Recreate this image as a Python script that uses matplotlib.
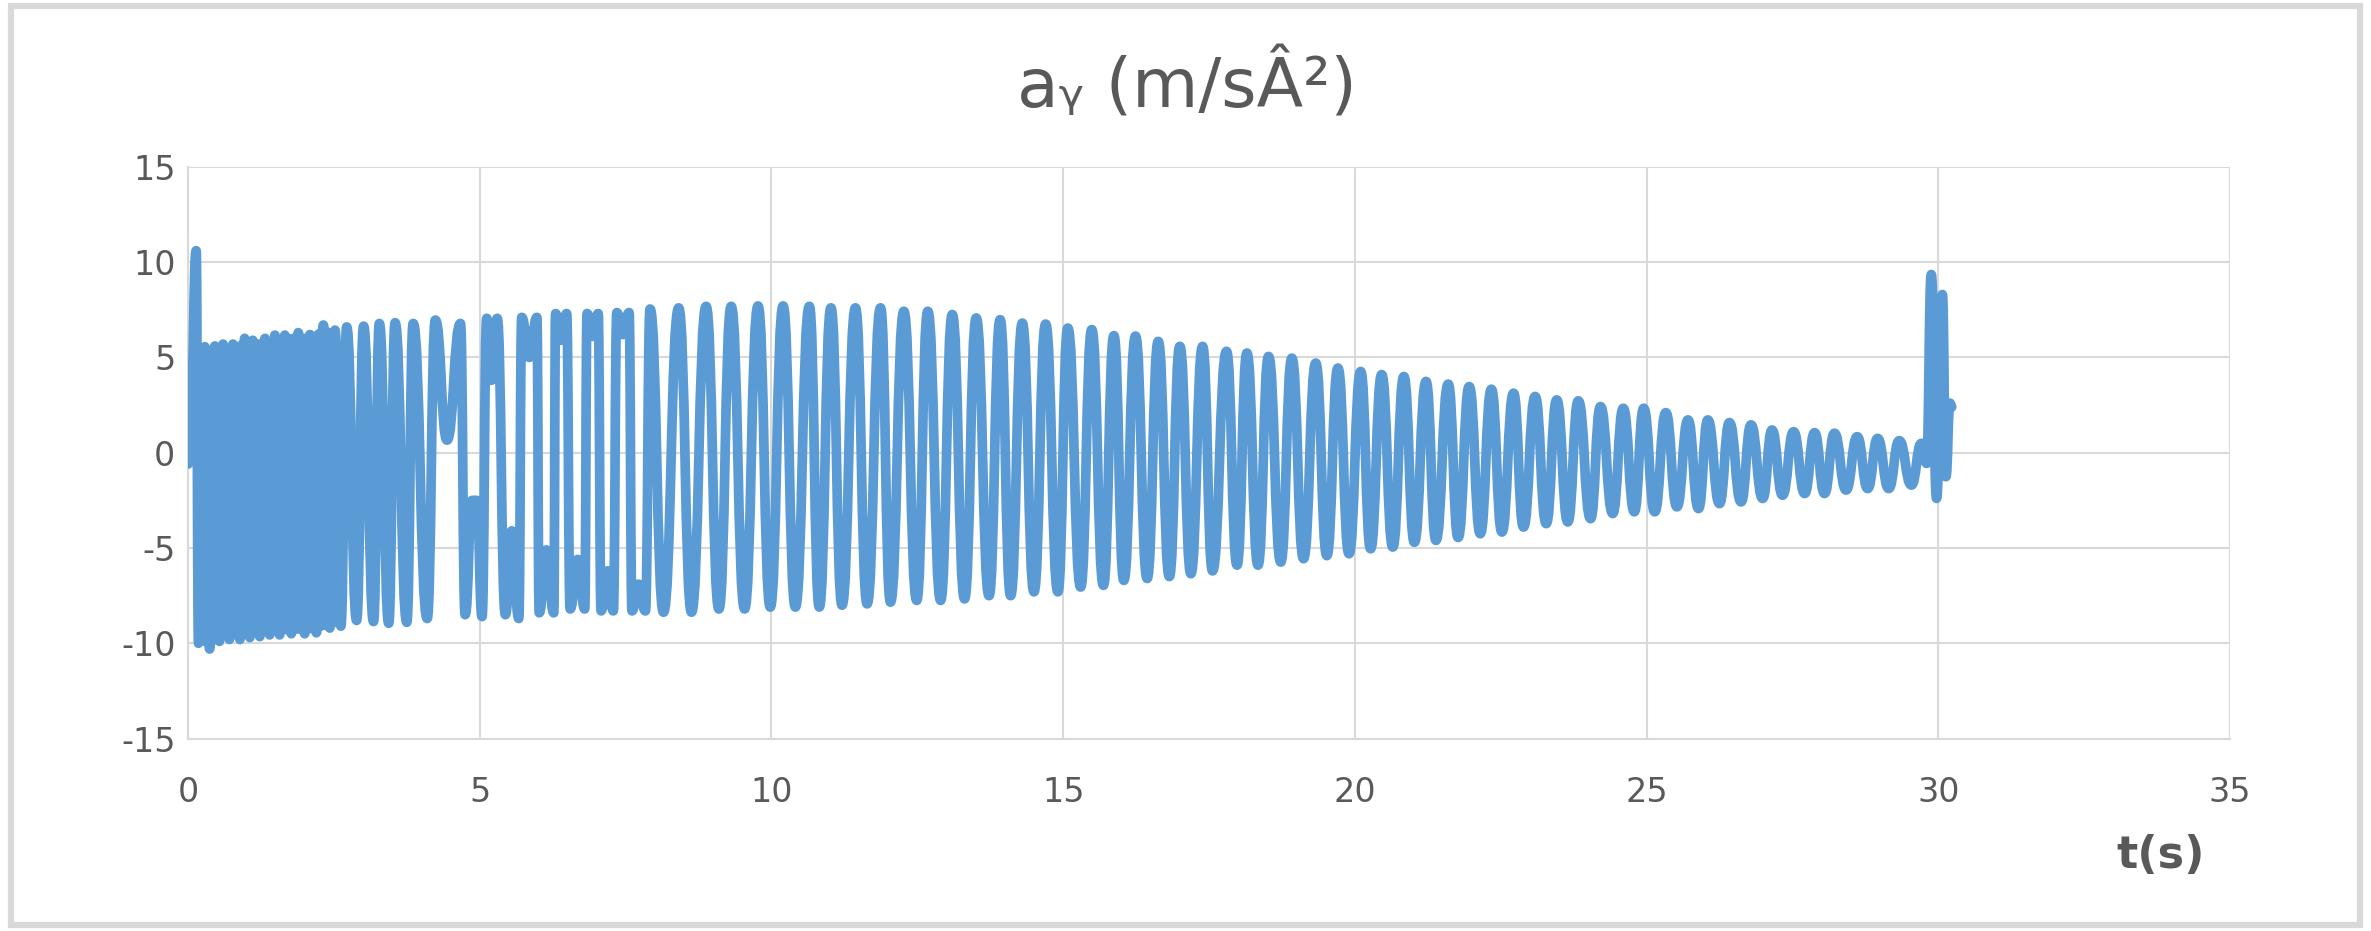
import numpy as np
import matplotlib
matplotlib.use("Agg")
import matplotlib.pyplot as plt
from matplotlib.patches import Rectangle, PathPatch
from matplotlib.path import Path

plt.rcParams["axes.unicode_minus"] = False

# ---------------- data (extrema) ----------------
# start transient and dense oscillation (0 - 2.7 s)
t_start = [0.00, 0.05, 0.14, 0.18, 0.29, 0.37, 0.46, 0.54, 0.60, 0.71, 0.77, 0.89,
           0.97, 1.06, 1.11, 1.23, 1.32, 1.40, 1.49, 1.57, 1.66, 1.77, 1.89, 2.00,
           2.09, 2.20, 2.32, 2.43, 2.52, 2.62]
a_start = [-0.6, 2.6, 10.6, -10.0, 5.56, -10.3, 5.6, -9.9, 5.7, -9.8, 5.7, -9.8,
           6.0, -9.7, 5.9, -9.65, 6.0, -9.56, 6.17, -9.56, 6.17, -9.5, 6.3, -9.5,
           6.2, -9.45, 6.7, -9.2, 6.43, -9.1]

# irregular part (2.7 - 5.1 s)
t_irreg = [2.72, 2.89, 3.01, 3.18, 3.28, 3.44, 3.55, 3.75, 3.86, 4.10, 4.24, 4.44,
           4.67, 4.75, 4.87, 4.95, 5.04]
a_irreg = [6.6, -8.8, 6.64, -8.86, 6.78, -8.95, 6.82, -8.9, 6.78, -8.7, 6.96, 0.66,
           6.78, -8.5, -2.5, -2.5, -8.6]

# notched peaks / troughs (5.1 - 7.9 s)
t_notch = [5.12, 5.20, 5.30, 5.44, 5.55, 5.67, 5.72, 5.85, 5.98, 6.02, 6.14, 6.27,
           6.30, 6.40, 6.49, 6.55, 6.68, 6.80, 6.84, 6.94, 7.03, 7.08, 7.19, 7.29,
           7.35, 7.45, 7.56, 7.61, 7.72, 7.84]
a_notch = [7.05, 3.8, 7.05, -8.5, -4.1, -8.7, 7.1, 5.0, 7.1, -8.4, -5.1, -8.4,
           7.3, 5.9, 7.3, -8.2, -5.6, -8.2, 7.3, 6.1, 7.3, -8.3, -6.2, -8.3,
           7.35, 6.2, 7.35, -8.3, -6.9, -8.3]

# regular oscillation (7.9 - 29.7 s)
peak_t = [7.92, 8.41, 8.88, 9.31, 9.77, 10.20, 10.65, 11.02, 11.44, 11.87, 12.27,
          12.68, 13.10, 13.51, 13.92, 14.30, 14.70, 15.08, 15.49, 15.87, 16.24,
          16.63, 17.00, 17.39, 17.80, 18.15, 18.52, 18.92, 19.33, 19.71, 20.10,
          20.46, 20.84, 21.22, 21.60, 21.96, 22.34, 22.72, 23.09, 23.46, 23.83,
          24.21, 24.60, 24.95, 25.33, 25.71, 26.05, 26.42, 26.79, 27.15, 27.52,
          27.88, 28.22, 28.61, 28.96, 29.33, 29.71]
peak_a = [7.54, 7.6, 7.68, 7.68, 7.7, 7.7, 7.68, 7.6, 7.6, 7.6, 7.42,
          7.42, 7.25, 7.07, 6.98, 6.8, 6.75, 6.54, 6.46, 6.14, 6.12,
          5.84, 5.58, 5.58, 5.32, 5.23, 5.05, 4.96, 4.7, 4.44, 4.26,
          4.1, 4.0, 3.74, 3.6, 3.47, 3.33, 3.12, 2.95, 2.77, 2.72,
          2.42, 2.33, 2.33, 2.1, 1.72, 1.72, 1.58, 1.46, 1.19, 1.1,
          1.05, 1.02, 0.84, 0.75, 0.63, 0.49]
trough_t = [8.15, 8.63, 9.10, 9.54, 9.98, 10.41, 10.82, 11.21, 11.64, 12.04, 12.49,
            12.90, 13.31, 13.73, 14.10, 14.50, 14.91, 15.30, 15.69, 16.04, 16.44,
            16.82, 17.19, 17.56, 17.98, 18.34, 18.73, 19.12, 19.52, 19.90, 20.27,
            20.65, 21.02, 21.39, 21.77, 22.15, 22.52, 22.89, 23.28, 23.65, 24.04,
            24.42, 24.79, 25.14, 25.52, 25.89, 26.25, 26.62, 26.99, 27.33, 27.71,
            28.05, 28.42, 28.79, 29.15, 29.54]
trough_a = [-8.37, -8.37, -8.2, -8.2, -8.1, -8.1, -8.1, -8.0, -7.93, -7.84, -7.75,
            -7.75, -7.67, -7.5, -7.5, -7.3, -7.3, -7.05, -6.96, -6.7, -6.6,
            -6.5, -6.35, -6.2, -5.9, -5.9, -5.74, -5.56, -5.4, -5.3, -5.04,
            -4.95, -4.7, -4.6, -4.45, -4.25, -4.16, -3.9, -3.72, -3.63, -3.46,
            -3.19, -3.1, -3.1, -2.84, -2.93, -2.67, -2.58, -2.4, -2.23, -2.14,
            -2.14, -1.96, -1.88, -1.88, -1.7]

# final spikes (29.8 - 30.2 s)
t_end = [29.80, 29.88, 29.97, 30.07, 30.13, 30.20, 30.23]
a_end = [-0.56, 9.35, -2.4, 8.3, -1.26, 2.6, 2.4]

x_ticks = [0, 5, 10, 15, 20, 25, 30, 35]
y_ticks = [-15, -10, -5, 0, 5, 10, 15]
title_text = "aᵧ (m/sÂ²)"
xlabel_text = "t(s)"
line_color = "#5B9BD5"

# ---------------- assemble series ----------------
reg_t = np.array(peak_t + trough_t)
reg_a = np.array(peak_a + trough_a)
order = np.argsort(reg_t)
t = np.concatenate([t_start, t_irreg, t_notch, reg_t[order], t_end])
a = np.concatenate([a_start, a_irreg, a_notch, reg_a[order], a_end])

# ---------------- figure ----------------
W, H = 2371, 931
fig = plt.figure(figsize=(W / 100, H / 100), dpi=100)
fig.patch.set_facecolor("white")

ax = fig.add_axes([188 / W, 1 - 738.6 / H, (2230 - 188) / W, (738.6 - 166.8) / H])

# dense start: the oscillation is too fast to resolve -> solid band between envelopes
dt = np.array(t_start[3:])
da = np.array(a_start[3:])
top = [(x, y) for x, y in zip(dt, da) if y > 0]
bot = [(x, y) for x, y in zip(dt, da) if y < 0]
band = np.array(top + bot[::-1])
ax.fill(band[:, 0], band[:, 1], color=line_color, lw=0, zorder=3)

# smoothed line (Bezier segments with flat tangents at the read extrema)
k = 0.5
verts = [(t[0], a[0])]
codes = [Path.MOVETO]
for i in range(len(t) - 1):
    dx = t[i + 1] - t[i]
    verts += [(t[i] + k * dx, a[i]), (t[i + 1] - k * dx, a[i + 1]), (t[i + 1], a[i + 1])]
    codes += [Path.CURVE4] * 3
ax.add_patch(PathPatch(Path(verts, codes), facecolor="none", edgecolor=line_color,
                       lw=7.0, joinstyle="round", capstyle="round", zorder=3))

ax.set_xlim(0, 35)
ax.set_ylim(-15, 15)
ax.set_xticks(x_ticks)
ax.set_yticks(y_ticks)
ax.grid(True, color="#d9d9d9", lw=1.5, zorder=0)
ax.set_axisbelow(True)
for s in ax.spines.values():
    s.set_color("#d9d9d9")
    s.set_linewidth(1.5)
ax.spines["top"].set_visible(False)
ax.spines["right"].set_visible(False)
ax.tick_params(length=0, labelcolor="#595959", labelsize=24)
ax.tick_params(axis="x", pad=27)
ax.tick_params(axis="y", pad=9)
for lab in ax.get_xticklabels() + ax.get_yticklabels():
    lab.set_family("DejaVu Sans")

fig.text(1187 / W, 1 - 85 / H, title_text, ha="center", va="center",
         fontsize=49, color="#595959", family=["DejaVu Sans"])
fig.text(2161 / W, 1 - 856 / H, xlabel_text, ha="center", va="center",
         fontsize=32, color="#595959", fontweight="bold",
         family=["DejaVu Sans"])

# outer chart border
fig.patches.append(Rectangle((11 / W, 6 / H), (2360 - 11) / W, (925 - 6) / H,
                             transform=fig.transFigure, fill=False,
                             edgecolor="#d9d9d9", lw=4.5, zorder=0))

fig.savefig("out.png", dpi=100, facecolor="white")
